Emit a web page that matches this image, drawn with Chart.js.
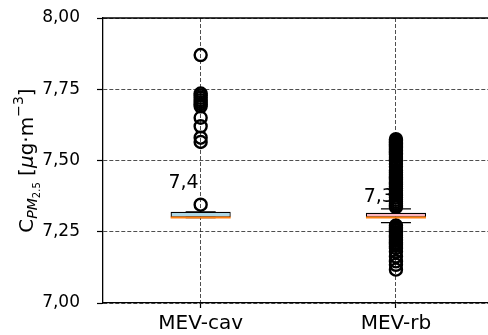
<!DOCTYPE html>
<html lang="en">
<head>
    <meta charset="UTF-8">
    <title>PM2.5 boxplot</title>
    <script src="https://cdn.jsdelivr.net/npm/chart.js"></script>
    <style>
        * { margin: 0; padding: 0; box-sizing: border-box; }
        body { width: 488px; height: 335px; overflow: hidden; background: #ffffff; }
        .wrap { width: 502px; height: 335px; }
    </style>
</head>
<body>
    <div class="wrap">
        <canvas id="boxChart" width="502" height="335"></canvas>
    </div>

    <script>
        // Data
        const categories = ['MEV-cav', 'MEV-rb'];
        const q1 = [7.300, 7.300];
        const median = [7.300, 7.300];
        const q3 = [7.320, 7.317];
        const whiskerLow = [7.300, 7.282];
        const whiskerHigh = [7.320, 7.330];
        const boxColors = ['#add8e6', '#ffb6c1'];

        const cavOutliers = [7.870, 7.735, 7.728, 7.720, 7.712, 7.705, 7.698, 7.690,
            7.650, 7.620, 7.580, 7.565, 7.345];
        const rbOutliers = [7.575, 7.570, 7.565, 7.560, 7.555, 7.550, 7.545, 7.540, 7.535,
            7.530, 7.525, 7.520, 7.512, 7.505, 7.497, 7.488, 7.478, 7.465, 7.458, 7.452,
            7.446, 7.440, 7.434, 7.428, 7.422, 7.416, 7.410, 7.402, 7.394, 7.386, 7.378,
            7.370, 7.362, 7.355, 7.348, 7.342, 7.336,
            7.272, 7.266, 7.260, 7.254, 7.248, 7.242, 7.236, 7.230, 7.224, 7.218, 7.212,
            7.206, 7.200, 7.192, 7.180, 7.163, 7.146, 7.134, 7.117];

        const noteTexts = ['7,4', '7,3'];
        const noteValues = [7.403, 7.354];

        const yTicks = [7.00, 7.25, 7.50, 7.75, 8.00];

        const FONT = "'DejaVu Sans', sans-serif";

        // boxplot lines, caps and notes drawn through the scales
        const boxParts = {
            id: 'boxParts',
            afterDatasetDraw(chart, args) {
                if (args.index !== 0) return;
                const ctx = chart.ctx;
                const xs = chart.scales.x;
                const ys = chart.scales.y;
                const half = 30;
                ctx.save();
                categories.forEach((c, i) => {
                    const cx = xs.getPixelForValue(i);
                    // whiskers
                    ctx.strokeStyle = '#000';
                    ctx.lineWidth = 1.3;
                    ctx.beginPath();
                    ctx.moveTo(cx, ys.getPixelForValue(q3[i]));
                    ctx.lineTo(cx, ys.getPixelForValue(whiskerHigh[i]));
                    ctx.moveTo(cx, ys.getPixelForValue(q1[i]));
                    ctx.lineTo(cx, ys.getPixelForValue(whiskerLow[i]));
                    ctx.stroke();
                    // caps
                    ctx.beginPath();
                    [whiskerHigh[i], whiskerLow[i]].forEach(v => {
                        const py = ys.getPixelForValue(v);
                        ctx.moveTo(cx - half / 2, py);
                        ctx.lineTo(cx + half / 2, py);
                    });
                    ctx.stroke();
                    // median
                    ctx.strokeStyle = '#ff7f0e';
                    ctx.lineWidth = 2;
                    const my = ys.getPixelForValue(median[i]);
                    ctx.beginPath();
                    ctx.moveTo(cx - half, my);
                    ctx.lineTo(cx + half, my);
                    ctx.stroke();
                    // note
                    ctx.fillStyle = '#000';
                    ctx.font = '19px ' + FONT;
                    ctx.textAlign = 'right';
                    ctx.textBaseline = 'alphabetic';
                    ctx.fillText(noteTexts[i], cx - 2, ys.getPixelForValue(noteValues[i]));
                });
                ctx.restore();
            },
            afterDraw(chart) {
                const ctx = chart.ctx;
                const a = chart.chartArea;
                ctx.save();
                // top spine
                ctx.strokeStyle = '#000';
                ctx.lineWidth = 1.3;
                ctx.beginPath();
                ctx.moveTo(a.left, a.top);
                ctx.lineTo(a.right, a.top);
                ctx.stroke();

                // y title with sub/superscripts
                const parts = [
                    { t: 'C', f: '20px ' + FONT, dy: 0 },
                    { t: 'PM', f: 'italic 14px ' + FONT, dy: 4 },
                    { t: '2.5', f: '10px ' + FONT, dy: 7 },
                    { t: ' [', f: '20px ' + FONT, dy: 0 },
                    { t: 'μ', f: 'italic 20px ' + FONT, dy: 0 },
                    { t: 'g', f: '20px ' + FONT, dy: 0 },
                    { t: '·', f: '20px ' + FONT, dy: 0 },
                    { t: 'm', f: '20px ' + FONT, dy: 0 },
                    { t: '−3', f: '14px ' + FONT, dy: -10 },
                    { t: ']', f: '20px ' + FONT, dy: 0 }
                ];
                let total = 0;
                parts.forEach(p => { ctx.font = p.f; p.w = ctx.measureText(p.t).width; total += p.w; });
                ctx.translate(33, (a.top + a.bottom) / 2);
                ctx.rotate(-Math.PI / 2);
                ctx.fillStyle = '#000';
                ctx.textAlign = 'left';
                ctx.textBaseline = 'alphabetic';
                let x = -total / 2;
                parts.forEach(p => {
                    ctx.font = p.f;
                    ctx.fillText(p.t, x, p.dy);
                    x += p.w;
                });
                ctx.restore();
            }
        };

        const pointStyle = {
            type: 'scatter',
            pointStyle: 'circle',
            pointRadius: 6,
            pointBorderWidth: 2.4,
            pointBorderColor: '#000',
            pointBackgroundColor: 'rgba(0,0,0,0)',
            showLine: false
        };

        const ctx = document.getElementById('boxChart').getContext('2d');
        new Chart(ctx, {
            type: 'bar',
            data: {
                labels: categories,
                datasets: [
                    {
                        data: categories.map((c, i) => [q1[i], q3[i]]),
                        backgroundColor: boxColors,
                        borderColor: '#000',
                        borderWidth: 1.3,
                        borderSkipped: false,
                        categoryPercentage: 1,
                        barPercentage: 0.308
                    },
                    Object.assign({ data: cavOutliers.map(v => ({ x: categories[0], y: v })) }, pointStyle),
                    Object.assign({ data: rbOutliers.map(v => ({ x: categories[1], y: v })) }, pointStyle)
                ]
            },
            options: {
                responsive: false,
                animation: false,
                layout: { padding: { top: 18, right: 3, left: 0, bottom: 0 } },
                plugins: { legend: { display: false }, tooltip: { enabled: false } },
                scales: {
                    x: {
                        type: 'category',
                        offset: true,
                        afterFit: s => { s.height = 32; s.paddingLeft = 0; s.paddingRight = 0; },
                        grid: {
                            offset: false,
                            color: '#222',
                            lineWidth: 0.8,
                            tickLength: 5,
                            tickColor: '#000',
                            tickWidth: 1.2,
                            tickBorderDash: []
                        },
                        border: { display: true, color: '#000', width: 1.3, dash: [4, 2] },
                        ticks: { color: '#000', font: { family: FONT, size: 20 }, padding: 4, maxRotation: 0 }
                    },
                    y: {
                        min: 7,
                        max: 8,
                        afterFit: s => { s.width = 103; s.paddingTop = 0; s.paddingBottom = 0; },
                        afterBuildTicks: s => { s.ticks = yTicks.map(v => ({ value: v })); },
                        grid: {
                            color: '#222',
                            lineWidth: 0.8,
                            tickLength: 6,
                            tickColor: '#000',
                            tickWidth: 1.2,
                            tickBorderDash: []
                        },
                        border: { display: true, color: '#000', width: 1.3, dash: [4, 2] },
                        ticks: {
                            color: '#000',
                            font: { family: FONT, size: 17 },
                            padding: 17,
                            callback: v => v.toFixed(2).replace('.', ',')
                        }
                    }
                }
            },
            plugins: [boxParts]
        });
    </script>
</body>
</html>
